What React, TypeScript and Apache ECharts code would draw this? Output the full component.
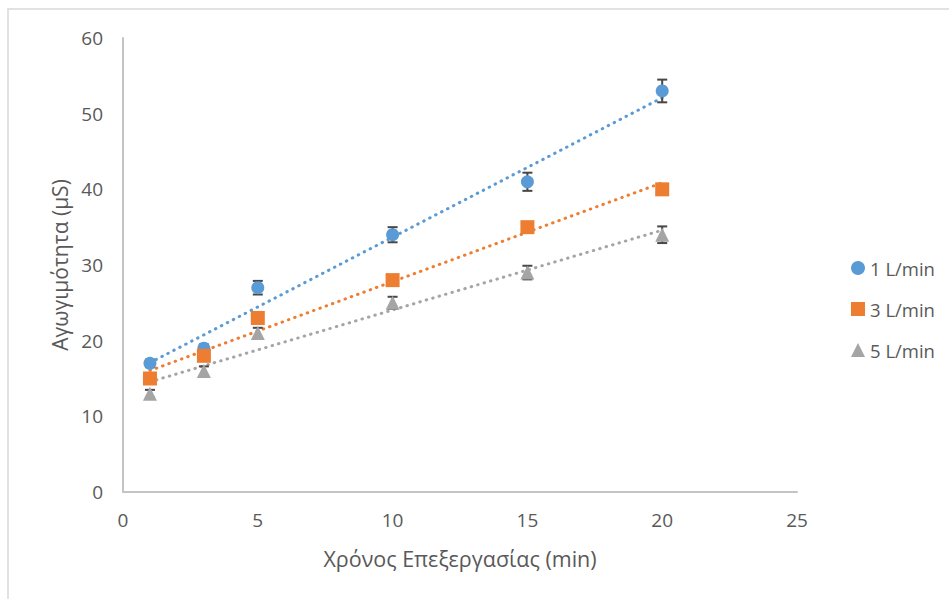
import React, { useEffect, useRef } from "react";
import * as echarts from "echarts";

// Treatment time (min) and measured conductivity (μS) per air flow rate
const timeMin = [1, 3, 5, 10, 15, 20];
const flow1 = [17, 19, 27, 34, 41, 53];
const flow3 = [15, 18, 23, 28, 35, 40];
const flow5 = [13, 16, 21, 25, 29, 34];
// Standard deviations (μS)
const err1 = [0.5, 0.5, 0.9, 1.0, 1.2, 1.5];
const err3 = [0.4, 0.4, 0.5, 0.5, 0.5, 0.5];
const err5 = [0.5, 0.6, 0.7, 0.8, 0.9, 1.1];

const seriesNames = ["1 L/min", "3 L/min", "5 L/min"];
const seriesColors = ["#5B9BD5", "#ED7D31", "#A5A5A5"];
const seriesSymbols = ["circle", "rect", "triangle"];

const xTicks = { min: 0, max: 25, interval: 5 };
const yTicks = { min: 0, max: 60, interval: 10 };

const FONT = "'Open Sans', 'Noto Sans', sans-serif";
const TEXT = "#595959";

// Least-squares linear trend over the measured range
function linearTrend(xs: number[], ys: number[]): number[][] {
  const n = xs.length;
  const mx = xs.reduce((a, b) => a + b, 0) / n;
  const my = ys.reduce((a, b) => a + b, 0) / n;
  let sxy = 0;
  let sxx = 0;
  for (let i = 0; i < n; i++) {
    sxy += (xs[i] - mx) * (ys[i] - my);
    sxx += (xs[i] - mx) * (xs[i] - mx);
  }
  const slope = sxy / sxx;
  const icpt = my - slope * mx;
  const x0 = Math.min(...xs);
  const x1 = Math.max(...xs);
  return [
    [x0, icpt + slope * x0],
    [x1, icpt + slope * x1],
  ];
}

function errorBars(name: string, ys: number[], errs: number[]) {
  return {
    type: "custom",
    name: name + " err",
    silent: true,
    z: 3,
    data: timeMin.map((x, i) => [x, ys[i] - errs[i], ys[i] + errs[i]]),
    renderItem: (_params: any, api: any) => {
      const lo = api.coord([api.value(0), api.value(1)]);
      const hi = api.coord([api.value(0), api.value(2)]);
      const cap = 5;
      const style = { stroke: "#474747", lineWidth: 2 };
      return {
        type: "group",
        children: [
          { type: "line", shape: { x1: lo[0], y1: lo[1], x2: hi[0], y2: hi[1] }, style },
          { type: "line", shape: { x1: lo[0] - cap, y1: lo[1], x2: lo[0] + cap, y2: lo[1] }, style },
          { type: "line", shape: { x1: hi[0] - cap, y1: hi[1], x2: hi[0] + cap, y2: hi[1] }, style },
        ],
      };
    },
  };
}

export default function App() {
  const ref = useRef<HTMLDivElement>(null);

  useEffect(() => {
    if (!ref.current) return;
    const chart = echarts.init(ref.current, null, { renderer: "svg" });
    const values = [flow1, flow3, flow5];
    const errs = [err1, err3, err5];

    const series: any[] = [];
    values.forEach((ys, k) => {
      series.push({
        type: "line",
        name: seriesNames[k] + " trend",
        data: linearTrend(timeMin, ys),
        showSymbol: false,
        silent: true,
        z: 2,
        lineStyle: { color: seriesColors[k], width: 3, type: [0.5, 6.2], cap: "round" },
      });
    });
    values.forEach((ys, k) => {
      series.push(errorBars(seriesNames[k], ys, errs[k]));
      series.push({
        type: "scatter",
        name: seriesNames[k],
        data: timeMin.map((x, i) => [x, ys[i]]),
        symbol: seriesSymbols[k],
        symbolSize: k === 0 ? 13 : 14,
        z: 4,
        itemStyle: { color: seriesColors[k], opacity: 1 },
      });
    });

    chart.setOption({
      animation: false,
      backgroundColor: "#ffffff",
      textStyle: { fontFamily: FONT },
      graphic: [
        {
          type: "rect",
          shape: { x: 8, y: 9, width: 1200, height: 1000 },
          style: { fill: "none", stroke: "#D9D9D9", lineWidth: 1.5 },
          silent: true,
        },
      ],
      grid: { left: 123, top: 38, right: 152, bottom: 107 },
      legend: {
        orient: "vertical",
        left: 846,
        top: 253,
        itemGap: 21,
        itemWidth: 14,
        itemHeight: 14,
        data: seriesNames.map((n, k) => ({ name: n, icon: seriesSymbols[k] })),
        textStyle: { color: TEXT, fontSize: 18.5, lineHeight: 20, fontFamily: FONT },
      },
      xAxis: {
        type: "value",
        min: xTicks.min,
        max: xTicks.max,
        interval: xTicks.interval,
        name: "Χρόνος Επεξεργασίας (min)",
        nameLocation: "middle",
        nameGap: 55,
        nameTextStyle: { color: TEXT, fontSize: 21.5, fontFamily: FONT },
        axisLine: { lineStyle: { color: "#C4C4C4", width: 2 } },
        axisTick: { show: false },
        splitLine: { show: false },
        axisLabel: { color: TEXT, fontSize: 19, margin: 18, fontFamily: FONT },
      },
      yAxis: {
        type: "value",
        min: yTicks.min,
        max: yTicks.max,
        interval: yTicks.interval,
        name: "Αγωγιμότητα (μS)",
        nameLocation: "middle",
        nameGap: 52,
        nameTextStyle: { color: TEXT, fontSize: 21, fontFamily: FONT },
        axisLine: { show: true, lineStyle: { color: "#C4C4C4", width: 2 } },
        axisTick: { show: false },
        splitLine: { show: false },
        axisLabel: { color: TEXT, fontSize: 19, margin: 20, fontFamily: FONT },
      },
      series,
    });

    return () => chart.dispose();
  }, []);

  return (
    <div
      ref={ref}
      style={{ position: "fixed", left: 0, top: 0, width: 949, height: 599, background: "#fff" }}
    />
  );
}
